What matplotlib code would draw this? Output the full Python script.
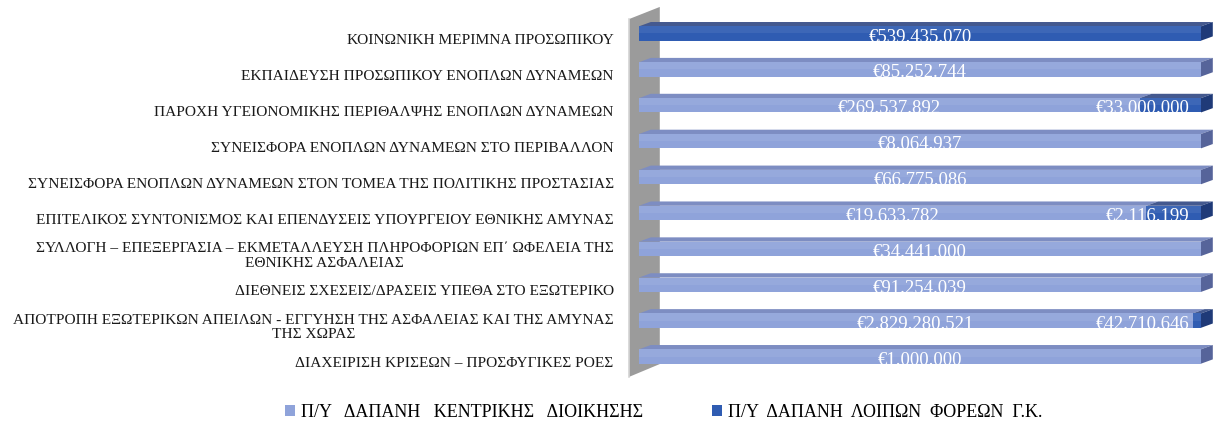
import matplotlib
matplotlib.use("Agg")
import matplotlib.pyplot as plt
from matplotlib.patches import Polygon, Patch
import numpy as np

# --- data (top row first) ---
categories = [
    "ΚΟΙΝΩΝΙΚΗ ΜΕΡΙΜΝΑ ΠΡΟΣΩΠΙΚΟΥ",
    "ΕΚΠΑΙΔΕΥΣΗ ΠΡΟΣΩΠΙΚΟΥ ΕΝΟΠΛΩΝ ΔΥΝΑΜΕΩΝ",
    "ΠΑΡΟΧΗ ΥΓΕΙΟΝΟΜΙΚΗΣ ΠΕΡΙΘΑΛΨΗΣ ΕΝΟΠΛΩΝ ΔΥΝΑΜΕΩΝ",
    "ΣΥΝΕΙΣΦΟΡΑ ΕΝΟΠΛΩΝ ΔΥΝΑΜΕΩΝ ΣΤΟ ΠΕΡΙΒΑΛΛΟΝ",
    "ΣΥΝΕΙΣΦΟΡΑ ΕΝΟΠΛΩΝ ΔΥΝΑΜΕΩΝ ΣΤΟΝ ΤΟΜΕΑ ΤΗΣ ΠΟΛΙΤΙΚΗΣ ΠΡΟΣΤΑΣΙΑΣ",
    "ΕΠΙΤΕΛΙΚΟΣ ΣΥΝΤΟΝΙΣΜΟΣ ΚΑΙ ΕΠΕΝΔΥΣΕΙΣ ΥΠΟΥΡΓΕΙΟΥ ΕΘΝΙΚΗΣ ΑΜΥΝΑΣ",
    "ΣΥΛΛΟΓΗ – ΕΠΕΞΕΡΓΑΣΙΑ – ΕΚΜΕΤΑΛΛΕΥΣΗ ΠΛΗΡΟΦΟΡΙΩΝ ΕΠ΄ ΩΦΕΛΕΙΑ ΤΗΣ\nΕΘΝΙΚΗΣ ΑΣΦΑΛΕΙΑΣ",
    "ΔΙΕΘΝΕΙΣ ΣΧΕΣΕΙΣ/ΔΡΑΣΕΙΣ ΥΠΕΘΑ ΣΤΟ ΕΞΩΤΕΡΙΚΟ",
    "ΑΠΟΤΡΟΠΗ ΕΞΩΤΕΡΙΚΩΝ ΑΠΕΙΛΩΝ - ΕΓΓΥΗΣΗ ΤΗΣ ΑΣΦΑΛΕΙΑΣ ΚΑΙ ΤΗΣ ΑΜΥΝΑΣ\nΤΗΣ ΧΩΡΑΣ",
    "ΔΙΑΧΕΙΡΙΣΗ ΚΡΙΣΕΩΝ – ΠΡΟΣΦΥΓΙΚΕΣ ΡΟΕΣ",
]
central = [0, 85252744, 269537892, 8064937, 66775086, 19633782, 34441000,
           91254039, 2829280521, 1000000]
others = [539435070, 0, 33000000, 0, 0, 2116199, 0, 0, 42710646, 0]
series_names = ["Π/Υ   ΔΑΠΑΝΗ   ΚΕΝΤΡΙΚΗΣ   ΔΙΟΙΚΗΣΗΣ",
                "Π/Υ  ΔΑΠΑΝΗ  ΛΟΙΠΩΝ  ΦΟΡΕΩΝ  Γ.Κ."]

SERIF = ["Liberation Serif", "DejaVu Serif"]
# (front, top, side) colours per series
LIGHT = ("#8FA3DA", "#7D8DC2", "#56649A")
DARK = ("#2F5CB2", "#44598F", "#1F3A78")


def euro(v):
    return "€" + f"{v:,}".replace(",", ".")


central = np.array(central, dtype=float)
others = np.array(others, dtype=float)
total = central + others
p_c = central / total
p_o = others / total

W, H = 1215, 427
fig = plt.figure(figsize=(W / 100, H / 100), dpi=100)
ax = fig.add_axes([639 / W, 1 - 375.45 / H, 562 / W, 358.9 / H])
ax.set_xlim(0, 1)
ax.set_ylim(9.5, -0.5)
ax.axis("off")

n = len(categories)
y = np.arange(n)
bh = 0.40            # front face height (row units)
dx, dy = 0.021, 0.12  # depth offset

# back wall
wall = Polygon([(-0.018, -0.40), (0.037, -0.74), (0.037, 9.21), (-0.018, 9.57)],
               closed=True, facecolor="#9B9B9B", edgecolor="none",
               clip_on=False, zorder=1)
ax.add_patch(wall)
ax.plot([-0.018, -0.018], [-0.40, 9.57], color="#D6D6D6", lw=1.2,
        clip_on=False, zorder=1)

bars_c = ax.barh(y, p_c, height=bh, color=LIGHT[0], zorder=3, clip_on=False)
bars_o = ax.barh(y, p_o, left=p_c, height=bh, color=DARK[0], zorder=3,
                 clip_on=False)


def faces(x0, x1, yc, cols, last):
    top = yc - bh / 2
    ax.add_patch(Polygon([(x0, top), (x1, top), (x1 + dx, top - dy),
                          (x0 + dx, top - dy)], closed=True,
                         facecolor=cols[1], edgecolor="none", zorder=2,
                         clip_on=False))
    # soft highlight on upper half of front face
    ax.add_patch(Polygon([(x0, top), (x1, top), (x1, yc), (x0, yc)],
                         closed=True, facecolor="white", alpha=0.07,
                         edgecolor="none", zorder=4, clip_on=False))
    if last:
        ax.add_patch(Polygon([(x1, top), (x1 + dx, top - dy),
                              (x1 + dx, yc + bh / 2 - dy), (x1, yc + bh / 2)],
                             closed=True, facecolor=cols[2], edgecolor="none",
                             zorder=2, clip_on=False))


for i in range(n):
    if p_c[i] > 0:
        faces(0, p_c[i], y[i], LIGHT, p_o[i] == 0)
    if p_o[i] > 0:
        faces(p_c[i], 1, y[i], DARK, True)

# data labels
lab = dict(va="center", color="white", fontsize=13.5, family=SERIF, zorder=6)
for i in range(n):
    if central[i] > 0:
        ax.text(p_c[i] / 2, y[i] + 0.07, euro(int(central[i])), ha="center",
                **lab)
    if others[i] > 0:
        if p_o[i] > 0.3:
            ax.text(p_c[i] + p_o[i] / 2, y[i] + 0.07, euro(int(others[i])),
                    ha="center", **lab)
        else:
            ax.text(0.98, y[i] + 0.07, euro(int(others[i])), ha="right", **lab)

# category labels
for i, c in enumerate(categories):
    ax.text(-0.045, y[i] + 0.17, c, ha="right", va="center",
            multialignment="center", fontsize=11.1, family=SERIF,
            color="#1A1A1A", linespacing=1.12, clip_on=False)

handles = [Patch(facecolor=LIGHT[0], label=series_names[0]),
           Patch(facecolor=DARK[0], label=series_names[1])]
fig.legend(handles=handles, loc="center", bbox_to_anchor=(664 / W, 1 - 413 / H),
           ncol=2, frameon=False, handlelength=0.55, handleheight=0.55,
           handletextpad=0.35, columnspacing=3.8,
           prop={"family": SERIF, "size": 13})

fig.savefig("out.png", dpi=100)
